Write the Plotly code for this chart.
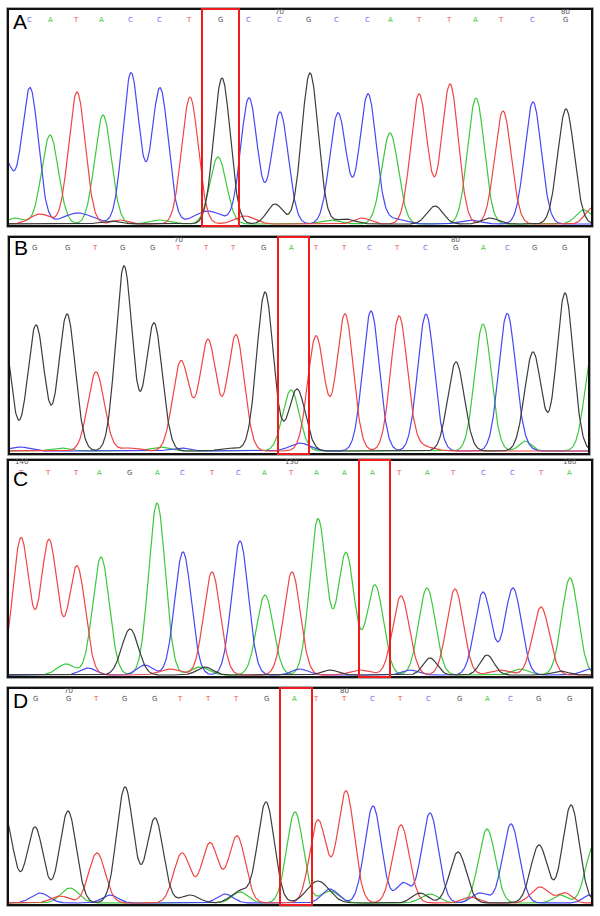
import numpy as np
import plotly.graph_objects as go

W, H = 600, 916

# ---------------- data: peaks (position, height[, width]) per dye channel ----------------
# Panel A
A_letters = list("CATACCTGCCGCCATTATCG")
A_letter_pos = [29, 50, 76, 101, 130, 159, 189, 220, 248, 279, 308, 336, 367, 390, 419, 449, 475, 501, 532, 565]
A_numbers = [("70", 279), ("80", 565)]
A_blue = [(4, 66), (30, 136), (131, 151), (160, 136), (249, 126), (280, 112), (338, 111), (368, 130), (533, 122),
          (78, 11, 15), (208, 13, 14), (395, 5, 10), (470, 4, 10)]
A_green = [(50, 89), (103, 109), (218, 67), (390, 91), (476, 126), (584, 14, 8), (15, 6, 8), (160, 4, 10), (330, 4, 10)]
A_red = [(77, 132), (190, 127), (419, 130), (450, 140), (503, 113), (40, 10, 10), (120, 4, 8), (245, 8, 10),
         (362, 6, 8), (592, 16, 7)]
A_black = [(222, 146), (310, 151), (566, 115), (275, 20, 8), (435, 18, 8), (110, 3, 10), (345, 5, 10), (490, 6, 8)]
A_box = (202, 239)

# Panel B
B_letters = list("GGTGGTTTGATTCTCGACGG")
B_letter_pos = [34, 67, 95, 122, 152, 178, 206, 233, 263, 291, 316, 344, 369, 397, 425, 455, 483, 507, 534, 564]
B_numbers = [("70", 178), ("80", 455)]
B_blue = [(371, 140), (426, 137), (507, 136), (20, 4, 10), (300, 8, 10), (520, 6, 8), (180, 3, 10)]
B_green = [(291, 61), (483, 127), (594, 112), (160, 4, 10), (525, 10, 6), (60, 3, 10)]
B_red = [(96, 79), (181, 90), (208, 111), (236, 116), (316, 115), (345, 137), (399, 134), (420, 5, 12), (130, 3, 10)]
B_black = [(2, 125), (36, 126), (67, 137), (124, 185), (154, 128), (265, 159), (297, 62), (456, 89), (533, 99),
           (565, 158), (230, 3, 10)]
B_box = (278, 309)

# Panel C
C_letters = list("TTTAGACTCATAAATATCCTA")
C_letter_pos = [21, 48, 76, 99, 129, 157, 182, 212, 238, 264, 291, 316, 344, 372, 399, 427, 453, 483, 512, 541, 569]
C_numbers = [("140", 21), ("150", 291), ("160", 569)]
C_red = [(21, 137), (49, 135), (77, 109), (212, 103), (292, 103), (401, 79), (455, 86), (541, 68),
         (170, 6, 10), (360, 5, 10), (500, 5, 10)]
C_green = [(101, 118), (157, 172), (265, 80), (318, 156), (346, 122), (375, 90), (427, 87), (570, 97),
           (66, 11, 9), (200, 8, 9), (520, 6, 8)]
C_blue = [(183, 123), (240, 134), (483, 83), (513, 87), (145, 10, 8), (88, 7, 8), (300, 6, 8), (410, 5, 8), (590, 6, 8)]
C_black = [(130, 46), (430, 17, 7), (487, 20, 7), (205, 8, 8), (330, 5, 8), (560, 4, 8)]
C_box = (359, 390)

# Panel D
D_letters = list("GGTGGTTTGATTCTCGACGG")
D_letter_pos = [35, 68, 96, 124, 154, 180, 208, 236, 266, 294, 316, 344, 372, 400, 428, 459, 487, 510, 538, 569]
D_numbers = [("70", 68), ("80", 344)]
D_black = [(5, 85), (35, 76), (68, 92), (125, 116), (155, 85), (266, 101), (458, 51), (539, 58), (571, 98),
           (318, 22, 11), (240, 12, 9), (190, 8, 9), (420, 10, 8)]
D_red = [(97, 50), (182, 50), (210, 60), (237, 67), (318, 83), (346, 112), (401, 78), (540, 16, 9), (565, 10, 7),
         (60, 7, 9), (470, 6, 8)]
D_green = [(295, 91), (487, 74), (594, 58), (70, 15, 9), (240, 11, 8), (330, 12, 9), (430, 9, 9), (560, 8, 7)]
D_blue = [(373, 97), (430, 90), (511, 79), (40, 10, 9), (110, 8, 8), (225, 9, 8), (403, 20, 7), (480, 10, 8),
          (590, 8, 7), (330, 14, 8)]
D_box = (280, 312)

# ---------------- styling / layout ----------------
COL = {"blue": "#4747f5", "green": "#3cc83c", "red": "#f04545", "black": "#3c3c3c"}
LET_COL = {"A": "#3cc83c", "C": "#6a6af5", "G": "#555555", "T": "#f05050"}
SIGMA = 8.3

panels = [
    # label, left, right, top, bottom, baseline, letters, pos, numbers, channels, box, letter_y, num_y, label_y
    ("A", 8, 592, 9, 226, 224, A_letters, A_letter_pos, A_numbers,
     {"blue": A_blue, "green": A_green, "red": A_red, "black": A_black}, A_box, 20, 12, 21),
    ("B", 9, 589, 237, 454, 451, B_letters, B_letter_pos, B_numbers,
     {"blue": B_blue, "green": B_green, "red": B_red, "black": B_black}, B_box, 248, 240, 247.5),
    ("C", 8, 592, 460, 677, 675, C_letters, C_letter_pos, C_numbers,
     {"blue": C_blue, "green": C_green, "red": C_red, "black": C_black}, C_box, 473, 462, 478),
    ("D", 8, 592, 688, 905, 903, D_letters, D_letter_pos, D_numbers,
     {"blue": D_blue, "green": D_green, "red": D_red, "black": D_black}, D_box, 699, 691, 700),
]

fig = go.Figure()
shapes, annotations = [], []
layout_axes = {}


def trace_from_peaks(xs, peaks):
    y = np.zeros_like(xs)
    for p in peaks:
        pos, h = p[0], p[1]
        s = p[2] if len(p) > 2 else SIGMA
        y += h * np.exp(-((xs - pos) ** 2) / (2 * s * s))
    return y


for i, (lab, L, R, T, B, base, letters, lpos, nums, chans, box, ly, ny, laby) in enumerate(panels):
    idx = "" if i == 0 else str(i + 1)
    xa, ya = "x" + idx, "y" + idx
    layout_axes["xaxis" + idx] = dict(domain=[L / W, R / W], range=[L, R], visible=False, fixedrange=True)
    layout_axes["yaxis" + idx] = dict(domain=[1 - B / H, 1 - T / H], range=[-(B - base), base - T],
                                      visible=False, fixedrange=True)
    xs = np.arange(L - 10, R + 10, 0.5)
    for c in ["green", "blue", "red", "black"]:
        fig.add_trace(go.Scatter(x=xs, y=trace_from_peaks(xs, chans[c]), mode="lines",
                                 line=dict(color=COL[c], width=1.2), xaxis=xa, yaxis=ya,
                                 showlegend=False, hoverinfo="skip"))
    for ch, px in zip(letters, lpos):
        annotations.append(dict(x=px, y=1 - ly / H, xref=xa, yref="paper", text=ch, showarrow=False,
                                font=dict(family="DejaVu Sans", size=7, color=LET_COL[ch]),
                                xanchor="center", yanchor="middle", borderpad=0))
    for t, px in nums:
        annotations.append(dict(x=px, y=1 - ny / H, xref=xa, yref="paper", text=t, showarrow=False,
                                font=dict(family="DejaVu Sans", size=7, color="#555555"),
                                xanchor="center", yanchor="middle", borderpad=0))
    annotations.append(dict(x=(L + 3) / W, y=1 - laby / H, xref="paper", yref="paper", text=lab,
                            showarrow=False, font=dict(family="Liberation Sans", size=21, color="black"),
                            xanchor="left", yanchor="middle"))
    shapes.append(dict(type="rect", xref="paper", yref="paper", x0=(L - 1.5) / W, x1=(R + 1.5) / W,
                       y0=1 - (B + 1.5) / H, y1=1 - (T - 1.5) / H, line=dict(color="#aaaaaa", width=1)))
    shapes.append(dict(type="rect", xref="paper", yref="paper", x0=L / W, x1=R / W,
                       y0=1 - B / H, y1=1 - T / H, line=dict(color="#111111", width=2)))
    shapes.append(dict(type="rect", xref=xa, yref=ya + " domain", x0=box[0], x1=box[1], y0=0, y1=1,
                       line=dict(color="#ee1c1c", width=2)))

fig.update_layout(width=W, height=H, margin=dict(l=0, r=0, t=0, b=0), paper_bgcolor="white",
                  plot_bgcolor="white", shapes=shapes, annotations=annotations, **layout_axes)
fig.write_html("out.html", config={"displayModeBar": False},
               post_script="document.body.style.margin='0';document.body.style.padding='0';")
